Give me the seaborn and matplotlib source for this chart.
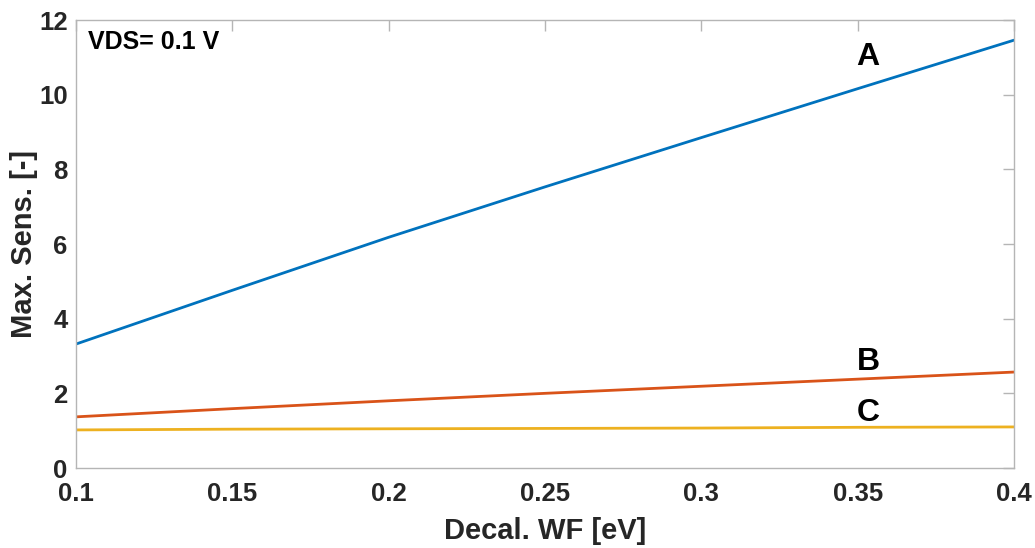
import numpy as np
import pandas as pd
import matplotlib
matplotlib.use("Agg")
import matplotlib.pyplot as plt
import seaborn as sns

# Decal. work function sweep and maximum sensitivity of each device
wf = [0.10, 0.15, 0.20, 0.25, 0.30, 0.35, 0.40]
sens_a = [3.32, 4.76, 6.18, 7.53, 8.85, 10.16, 11.46]
sens_b = [1.37, 1.59, 1.80, 2.00, 2.19, 2.38, 2.57]
sens_c = [1.02, 1.04, 1.05, 1.06, 1.07, 1.09, 1.10]
series_names = ["A", "B", "C"]
series_colors = ["#0072BD", "#D95319", "#EDB120"]
x_ticks = [0.1, 0.15, 0.2, 0.25, 0.3, 0.35, 0.4]
x_tick_labels = ["0.1", "0.15", "0.2", "0.25", "0.3", "0.35", "0.4"]
y_ticks = [0, 2, 4, 6, 8, 10, 12]

df = pd.DataFrame({
    "wf": wf * 3,
    "sens": sens_a + sens_b + sens_c,
    "device": [n for n in series_names for _ in wf],
})

sns.set_theme(style="white")
plt.rcParams["font.family"] = ["Liberation Sans", "DejaVu Sans"]
plt.rcParams["font.weight"] = "bold"

fig = plt.figure(figsize=(10.35, 5.48), dpi=100)
ax = fig.add_axes([76 / 1035, 80 / 548, 938 / 1035, 448 / 548])

sns.lineplot(data=df, x="wf", y="sens", hue="device",
             palette=dict(zip(series_names, series_colors)),
             linewidth=2.0, legend=False, ax=ax)

ax.set_xlim(0.1, 0.4)
ax.set_ylim(0, 12)
ax.set_xticks(x_ticks)
ax.set_xticklabels(x_tick_labels)
ax.set_yticks(y_ticks)

for s in ax.spines.values():
    s.set_visible(True)
    s.set_color("#b5b5b5")
    s.set_linewidth(1.0)

ax.tick_params(axis="both", which="major", direction="in", length=8,
               width=1.0, color="#b5b5b5", labelsize=18.5, labelcolor="#262626",
               top=True, right=True)
ax.tick_params(axis="x", pad=10)
ax.tick_params(axis="y", pad=6)
for lbl in ax.get_xticklabels() + ax.get_yticklabels():
    lbl.set_fontweight("bold")

ax.set_xlabel("Decal. WF [eV]", fontsize=21, fontweight="bold",
              color="#262626", labelpad=8)
ax.set_ylabel("Max. Sens. [-]", fontsize=21, fontweight="bold",
              color="#262626", labelpad=1)

ax.text(0.1038, 11.4, "VDS= 0.1 V", fontsize=18, fontweight="bold",
        color="black", ha="left", va="center")
label_y = {"A": 11.02, "B": 2.85, "C": 1.46}
for name in series_names:
    ax.text(0.3533, label_y[name], name, fontsize=23, fontweight="bold",
            color="black", ha="center", va="center")

fig.savefig("out.png", dpi=100)
